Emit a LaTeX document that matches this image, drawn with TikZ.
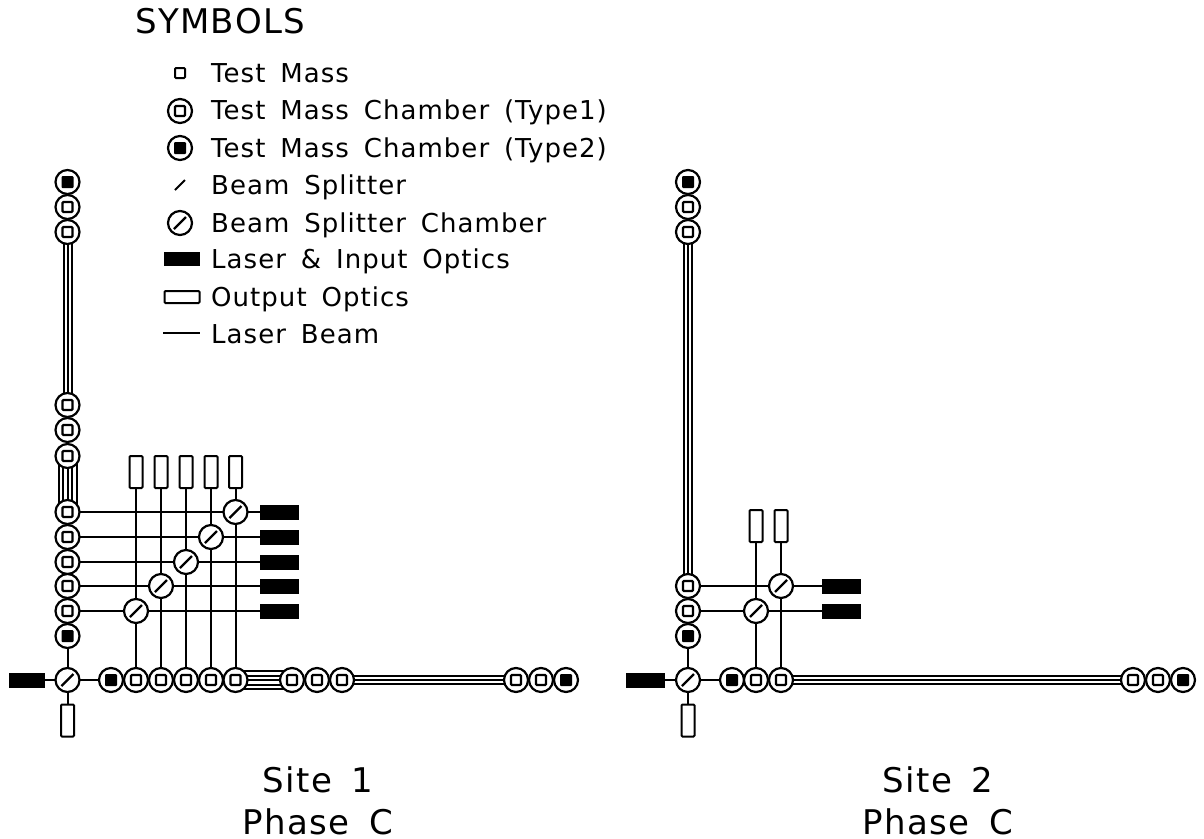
\documentclass[tikz,border=0pt]{standalone}
\usepackage{fontspec}
\setmainfont{DejaVu Sans}[LetterSpace=4,WordSpace=1.6]
\usetikzlibrary{backgrounds}
\tikzset{
  beam/.style={line width=2pt},
  chamber/.style={circle,draw,line width=2.2pt,fill=white,minimum size=24pt,inner sep=0pt,outer sep=0pt},
  tma/.style={chamber,path picture={\draw[line width=2.2pt,rounded corners=1pt] ([shift={(-5,-5)}]path picture bounding box.center) rectangle ++(10,10);}},
  tmb/.style={chamber,path picture={\fill[black,rounded corners=1pt] ([shift={(-6,-6)}]path picture bounding box.center) rectangle ++(12,12);}},
  bsc/.style={chamber,path picture={\draw[line width=2.2pt] ([shift={(-6,6)}]path picture bounding box.center) -- ++(12,-12);}},
  laser/.style={rectangle,fill=black,draw,line width=1pt,minimum width=38pt,minimum height=14pt,inner sep=0pt},
  outv/.style={rectangle,draw,line width=2pt,fill=white,rounded corners=1pt,minimum width=13pt,minimum height=32pt,inner sep=0pt},
  outh/.style={rectangle,draw,line width=2pt,fill=white,rounded corners=1pt,minimum width=35pt,minimum height=12pt,inner sep=0pt},
  mass/.style={rectangle,draw,line width=2pt,rounded corners=1pt,minimum size=10pt,inner sep=0pt},
  lab/.style={anchor=base west,inner sep=0pt,font=\fontsize{26}{30}\selectfont},
  title/.style={anchor=base,inner sep=0pt,font=\fontsize{34}{40}\selectfont},
  tube/.style={line width=2pt},
}
\begin{document}
\begin{tikzpicture}[x=1pt,y=-1pt]
\useasboundingbox (0,0) rectangle (1204,838);
\begin{pgfonlayer}{background}
\fill[white] (0,0) rectangle (1204,838);
\end{pgfonlayer}
% legend
\node[title,anchor=base west] (sym) at (135,33) {SYMBOLS};
\node[mass] (l1) at (180,73) {};
\node[tma] (l2) at (180,111) {};
\node[tmb] (l3) at (180,148) {};
\coordinate (l4a) at (175,190); \coordinate (l4b) at (185,180);
\draw[beam] (l4a) -- (l4b);
\node[bsc] (l5) at (180,223) {};
\node[laser,minimum width=35pt,minimum height=13pt] (l6) at (182,259) {};
\node[outh] (l7) at (182,297) {};
\coordinate (l8a) at (163,333); \coordinate (l8b) at (200,333);
\draw[beam] (l8a) -- (l8b);
\node[lab] (t1) at (211,82) {Test Mass};
\node[lab] (t2) at (211,119) {Test Mass Chamber (Type1)};
\node[lab] (t3) at (211,157) {Test Mass Chamber (Type2)};
\node[lab] (t4) at (211,194) {Beam Splitter};
\node[lab] (t5) at (211,232) {Beam Splitter Chamber};
\node[lab] (t6) at (211,268) {Laser \& Input Optics};
\node[lab] (t7) at (211,306) {Output Optics};
\node[lab] (t8) at (211,343) {Laser Beam};
% site 1 vertical column
\node[tmb] (a1) at (67.5,182) {};
\node[tma] (a2) at (67.5,207) {};
\node[tma] (a3) at (67.5,232) {};
\node[tma] (a4) at (67.5,405) {};
\node[tma] (a5) at (67.5,430) {};
\node[tma] (a6) at (67.5,456) {};
\node[tma] (a7) at (67.5,512) {};
\node[tma] (a8) at (67.5,537) {};
\node[tma] (a9) at (67.5,562) {};
\node[tma] (a10) at (67.5,586) {};
\node[tma] (a11) at (67.5,611) {};
\node[tmb] (a12) at (67.5,636) {};
\node[bsc] (abs) at (67.5,680) {};
\node[laser,minimum width=35pt] (alas) at (27,680) {};
\node[outv] (aout) at (67.5,720.5) {};
% site 1 row
\node[tmb] (b1) at (111,680) {};
\node[tma] (b2) at (136,680) {};
\node[tma] (b3) at (161,680) {};
\node[tma] (b4) at (186,680) {};
\node[tma] (b5) at (211,680) {};
\node[tma] (b6) at (235.5,680) {};
\node[tma] (b7) at (292,680) {};
\node[tma] (b8) at (317,680) {};
\node[tma] (b9) at (342,680) {};
\node[tma] (b10) at (516,680) {};
\node[tma] (b11) at (541,680) {};
\node[tmb] (b12) at (566,680) {};
% site 1 beam splitters, lasers, outputs
\foreach \n/\x/\y in {1/136/611,2/161/586,3/186/562,4/211/537,5/235.5/512}{
  \node[bsc] (s\n) at (\x,\y) {};
  \node[laser] (la\n) at (279.5,\y) {};
  \node[outv] (o\n) at (\x,472) {};
}
\draw[beam] (a11) -- (s1) -- (la1);
\draw[beam] (a10) -- (s2) -- (la2);
\draw[beam] (a9) -- (s3) -- (la3);
\draw[beam] (a8) -- (s4) -- (la4);
\draw[beam] (a7) -- (s5) -- (la5);
\draw[beam] (b2) -- (s1) -- (o1);
\draw[beam] (b3) -- (s2) -- (o2);
\draw[beam] (b4) -- (s3) -- (o3);
\draw[beam] (b5) -- (s4) -- (o4);
\draw[beam] (b6) -- (s5) -- (o5);
\draw[beam] (alas) -- (abs) -- (b1);
\draw[beam] (a12) -- (abs) -- (aout);
% site 1 multi-beam tubes
\begin{pgfonlayer}{background}
\foreach \d in {-4,0,4}{
  \draw[tube] ([xshift=\d]a3.center) -- ([xshift=\d]a4.center);
  \draw[tube] ([yshift=\d]b9.center) -- ([yshift=\d]b10.center);
}
\foreach \d in {-9,-4.5,0,4.5,9}{
  \draw[tube] ([xshift=\d]a6.center) -- ([xshift=\d]a7.center);
  \draw[tube] ([yshift=\d]b6.center) -- ([yshift=\d]b7.center);
}
\end{pgfonlayer}
% site 2 column
\node[tmb] (c1) at (688,182) {};
\node[tma] (c2) at (688,207) {};
\node[tma] (c3) at (688,232) {};
\node[tma] (c4) at (688,586) {};
\node[tma] (c5) at (688,611) {};
\node[tmb] (c6) at (688,636) {};
\node[bsc] (cbs) at (688,680) {};
\node[laser] (clas) at (645,680) {};
\node[outv] (cout) at (688,720.5) {};
% site 2 row
\node[tmb] (d1) at (732,680) {};
\node[tma] (d2) at (756,680) {};
\node[tma] (d3) at (781,680) {};
\node[tma] (d4) at (1133,680) {};
\node[tma] (d5) at (1158,680) {};
\node[tmb] (d6) at (1183,680) {};
\node[bsc] (e1) at (756,611) {};
\node[bsc] (e2) at (781,586) {};
\node[laser] (el1) at (841.5,611) {};
\node[laser] (el2) at (841.5,586) {};
\node[outv] (eo1) at (756,526) {};
\node[outv] (eo2) at (781,526) {};
\draw[beam] (c5) -- (e1) -- (el1);
\draw[beam] (c4) -- (e2) -- (el2);
\draw[beam] (d2) -- (e1) -- (eo1);
\draw[beam] (d3) -- (e2) -- (eo2);
\draw[beam] (clas) -- (cbs) -- (d1);
\draw[beam] (c6) -- (cbs) -- (cout);
\begin{pgfonlayer}{background}
\foreach \d in {-4,0,4}{
  \draw[tube] ([xshift=\d]c3.center) -- ([xshift=\d]c4.center);
  \draw[tube] ([yshift=\d]d3.center) -- ([yshift=\d]d4.center);
}
\end{pgfonlayer}
% titles
\node[title] (s1t) at (318,792) {Site 1};
\node[title] (s1p) at (318,834) {Phase C};
\node[title] (s2t) at (938,792) {Site 2};
\node[title] (s2p) at (938,834) {Phase C};
\end{tikzpicture}
\end{document}
